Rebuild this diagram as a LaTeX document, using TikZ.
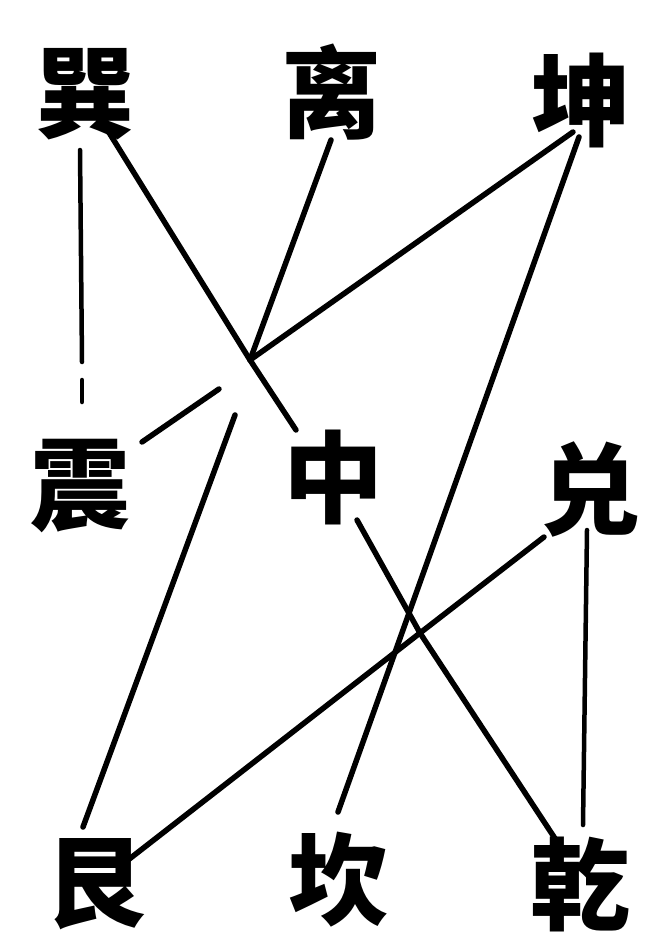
\documentclass[tikz,border=0pt]{standalone}
\usepackage{fontspec}
\newfontfamily\cjk{Noto Sans CJK SC}
\usetikzlibrary{calc}

\begin{document}
\begin{tikzpicture}[x=1pt,y=-1pt,
    gua/.style={font=\cjk\bfseries\fontsize{100}{100}\selectfont, inner sep=0pt},
    brush/.style={line width=5.5pt, line cap=round}]
        \useasboundingbox (0,0) rectangle (654,942);
        % Trigram names
        \node[gua] (xun) at (85,94) {巽};
        \node[gua] (li) at (331,92) {离};
        \node[gua] (kun) at (581,100) {坤};
        \node[gua] (zhen) at (80,486) {震};
        \node[gua] (zhong) at (333,477) {中};
        \node[gua] (dui) at (590,489) {兑};
        \node[gua] (gen) at (95,884) {艮};
        \node[gua] (kan) at (338,880) {坎};
        \node[gua] (qian) at (580,884) {乾};
        % Meeting points
        \coordinate (X1) at (250,360);
        \coordinate (X2) at (420,633);
        % Line ends
        \coordinate (xun-b) at (80,150);
        \coordinate (xun-r) at (100,118);
        \coordinate (li-b) at (331,140);
        \coordinate (kun-l) at (573,132);
        \coordinate (kun-b) at (579,137);
        \coordinate (zhen-t) at (142,442);
        \coordinate (gen-t) at (83,827);
        \coordinate (gen-r) at (119,867);
        \coordinate (kan-t) at (338,812);
        \coordinate (zhong-t) at (296,430);
        \coordinate (zhong-b) at (357,520);
        \coordinate (dui-l) at (544,537);
        \coordinate (dui-b) at (587,530);
        \coordinate (qian-t) at (556,840);
        \coordinate (qian-u) at (583,825);
        % Upper left
        \draw[brush, line width=4.5pt] (xun-b) -- (82,362);
        \draw[brush, line width=4.5pt] (82,380) -- (82,402);
        \draw[brush] (xun-r) -- (X1) -- (zhong-t);
        \draw[brush] (li-b) -- (X1);
        \draw[brush] (kun-l) -- (X1);
        \draw[brush] (219,389) -- (zhen-t);
        \draw[brush] (235,415) -- (gen-t);
        % Lower right
        \draw[brush] (kun-b) -- (kan-t);
        \draw[brush] (zhong-b) -- (X2) -- (qian-t);
        \draw[brush] (dui-l) -- (X2) -- (gen-r);
        \draw[brush, line width=4.5pt] (dui-b) -- (qian-u);
      \end{tikzpicture}
\end{document}
